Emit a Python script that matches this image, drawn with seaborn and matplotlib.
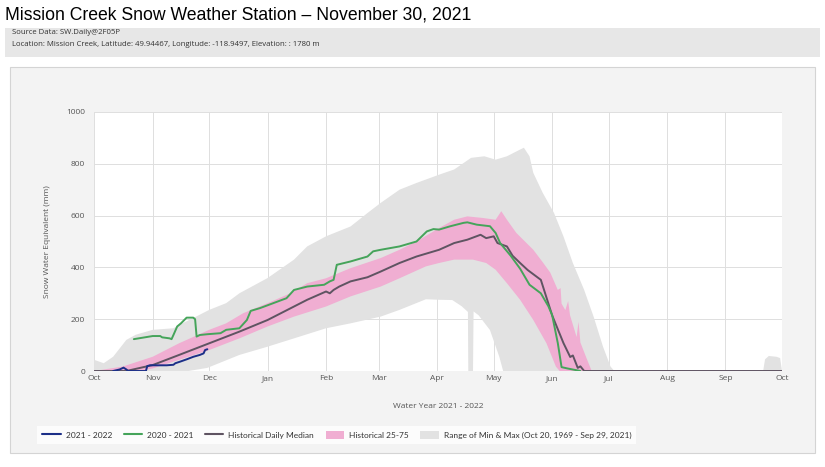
import numpy as np
import matplotlib
matplotlib.use("Agg")
import matplotlib.pyplot as plt
import seaborn as sns
from matplotlib.patches import Rectangle, Patch
from matplotlib.lines import Line2D

# ---------------- data (day of water year from Oct 1, SWE in mm) ----------------
MONTH_DAYS = [0, 31, 61, 92, 123, 151, 182, 212, 243, 273, 304, 335, 365]
MONTH_LABELS = ["Oct", "Nov", "Dec", "Jan", "Feb", "Mar", "Apr", "May", "Jun", "Jul", "Aug", "Sep", "Oct"]
Y_TICKS = [0, 200, 400, 600, 800, 1000]

MAX_DAY = [0, 5, 10, 17, 22, 31, 42, 47, 54, 61, 70, 77, 92, 106, 113, 123, 136, 145, 152, 162, 171,
           183, 191, 200, 207, 213, 219, 226, 228, 231, 233, 238, 244, 249, 254, 260, 265, 270, 274, 276,
           355, 356, 358, 362, 364, 365]
MAX_VAL = [43, 30, 55, 120, 140, 159, 165, 185, 210, 236, 262, 300, 359, 430, 481, 520, 558, 610, 649, 700, 726,
           758, 778, 823, 829, 816, 829, 855, 862, 829, 765, 688, 610, 520, 417, 313, 210, 94, 17, 0,
           0, 45, 58, 55, 50, 0]

MIN_DAY = [0, 50, 60, 77, 92, 106, 123, 136, 152, 162, 176, 183, 190, 195, 198.3, 198.5, 201, 201.3, 204, 210, 215, 217, 365]
MIN_VAL = [0, 0, 12, 62, 94, 126, 165, 184, 210, 236, 277, 275, 274, 250, 228, 0, 0, 230, 215, 158, 54, 0, 0]

P75_DAY = [0, 15, 31, 45, 61, 70, 79, 92, 104, 113, 123, 136, 152, 162, 171, 183, 191, 198, 206, 213, 216, 219,
           224, 233, 238, 242, 246, 247.5, 248, 250, 251.5, 252.5, 256, 257, 258, 261, 264]
P75_VAL = [0, 17, 55, 107, 159, 184, 223, 262, 300, 339, 358, 397, 436, 468, 500, 552, 584, 597, 591, 584, 617, 584,
           533, 468, 420, 380, 313, 320, 260, 235, 270, 215, 131, 190, 110, 54, 0]

P25_DAY = [0, 24, 31, 45, 61, 77, 92, 106, 123, 136, 152, 162, 176, 183, 191, 201, 208, 213, 219, 226, 233, 240, 245, 247]
P25_VAL = [0, 0, 10, 43, 81, 126, 172, 210, 249, 288, 326, 358, 404, 417, 430, 430, 417, 391, 339, 275, 197, 107, 17, 0]

MED_DAY = [0, 17, 31, 45, 61, 77, 92, 106, 113, 123, 125, 127, 130, 136, 145, 152, 162, 171, 183, 191, 198, 205,
           208, 212, 214, 219, 222, 226, 230, 237, 243, 249, 252.6, 254, 256.6, 258, 260, 365]
MED_VAL = [0, 0, 23, 62, 107, 152, 197, 249, 275, 307, 300, 313, 326, 346, 362, 384, 417, 442, 468, 494, 507, 526,
           513, 520, 494, 481, 445, 417, 390, 352, 215, 108, 54, 60, 12, 18, 0, 0]

GREEN_DAY = [21, 31, 35, 36, 40, 41, 42, 44, 46, 49, 52.5, 53.5, 54.3, 56, 60, 67, 70, 77, 81, 83, 88, 95, 102,
             106, 113, 122, 125, 127, 128.7, 136, 145, 148, 152, 162, 171, 176.5, 180, 183, 189, 196, 198, 203,
             210, 213, 215.4, 221, 226, 231, 237, 241, 243, 246, 248, 251, 258]
GREEN_VAL = [123, 135, 135, 130, 126, 123, 139, 172, 184, 206, 206, 200, 133, 139, 142, 146, 159, 165, 197, 232, 243,
             262, 281, 313, 326, 333, 346, 352, 410, 423, 442, 462, 468, 481, 500, 539, 548, 546, 559, 572, 574,
             565, 559, 533, 494, 445, 395, 333, 300, 250, 216, 108, 15, 10, 0]

BLUE_DAY = [10, 13.5, 15.5, 17, 18, 27.4, 28.1, 29.6, 38.4, 42, 43, 45.5, 49, 52.6, 56, 58, 58.8, 60]
BLUE_VAL = [0, 6, 13, 6, 0, 0, 19, 22, 22, 24, 30, 36, 45, 55, 62, 68, 81, 84]

LEGEND_LABELS = ["2021 - 2022", "2020 - 2021", "Historical Daily Median", "Historical 25-75",
                 "Range of Min & Max (Oct 20, 1969 - Sep 29, 2021)"]

C_BLUE = "#1c2f88"
C_GREEN = "#45a45a"
C_MED = "#5f5462"
C_PINK = "#f0aed2"
C_GRAY = "#e2e2e2"
TXT = "#555555"

# ---------------- figure ----------------
sns.set_theme(style="white")
plt.rcParams['font.family'] = ['Open Sans', 'DejaVu Sans']

W, H = 825, 467
fig = plt.figure(figsize=(W / 100, H / 100), dpi=100)
fig.patch.set_facecolor("white")


def fx(px):
    return px / W


def fy(py):
    return 1 - py / H


fig.patches.append(Rectangle((fx(5), fy(57)), fx(820) - fx(5), fy(28) - fy(57), transform=fig.transFigure,
                             facecolor="#e7e7e7", edgecolor="none", zorder=-2))
fig.patches.append(Rectangle((fx(10), fy(453)), fx(815) - fx(10), fy(67) - fy(453), transform=fig.transFigure,
                             facecolor="#f3f3f3", edgecolor="#d4d4d4", lw=0.8, zorder=-2))

fig.text(fx(5), fy(15), "Mission Creek Snow Weather Station \u2013 November 30, 2021",
         family=["Liberation Sans", "DejaVu Sans"], fontsize=12.7, color="black", va="center", ha="left")
fig.text(fx(12), fy(33), "Source Data: SW.Daily@2F05P", family=["Open Sans", "DejaVu Sans"],
         fontsize=5.6, color="#333333", va="center", ha="left")
fig.text(fx(12), fy(44), "Location: Mission Creek, Latitude: 49.94467, Longitude: -118.9497, Elevation: : 1780 m",
         family=["Open Sans", "DejaVu Sans"], fontsize=5.6, color="#333333", va="center", ha="left")

ax = fig.add_axes([fx(94.3), fy(371), fx(782) - fx(94.3), fy(112) - fy(371)])
ax.set_facecolor("white")

# bands
ax.fill(np.r_[MAX_DAY, MIN_DAY[::-1]], np.r_[MAX_VAL, MIN_VAL[::-1]], color=C_GRAY, lw=0, zorder=1)
ax.fill(np.r_[P75_DAY, P25_DAY[::-1]], np.r_[P75_VAL, P25_VAL[::-1]], color=C_PINK, lw=0, zorder=2)

# lines
sns.lineplot(x=MED_DAY, y=MED_VAL, ax=ax, color=C_MED, lw=1.4, estimator=None, sort=False, zorder=3)
sns.lineplot(x=GREEN_DAY, y=GREEN_VAL, ax=ax, color=C_GREEN, lw=1.4, estimator=None, sort=False, zorder=4)
sns.lineplot(x=BLUE_DAY, y=BLUE_VAL, ax=ax, color=C_BLUE, lw=1.4, estimator=None, sort=False, zorder=5)

ax.set_xlim(0, 365)
ax.set_ylim(0, 1000)
ax.set_xticks(MONTH_DAYS)
ax.set_xticklabels(MONTH_LABELS)
ax.set_yticks(Y_TICKS)
ax.grid(True, color="#dedede", lw=0.7)
ax.set_axisbelow(True)
for s in ax.spines.values():
    s.set_visible(False)
ax.tick_params(axis="both", length=0, labelsize=6, colors=TXT)
ax.tick_params(axis="y", pad=6.5)
ax.tick_params(axis="x", pad=3)
ax.set_xlabel("Water Year 2021 - 2022", fontsize=6, color=TXT, labelpad=15)
ax.set_ylabel("Snow Water Equivalent (mm)", fontsize=6, color=TXT, labelpad=11)

handles = [Line2D([], [], color=C_BLUE, lw=1.5), Line2D([], [], color=C_GREEN, lw=1.5),
           Line2D([], [], color=C_MED, lw=1.5), Patch(facecolor=C_PINK, edgecolor="none"),
           Patch(facecolor=C_GRAY, edgecolor="none")]
leg = fig.legend(handles, LEGEND_LABELS, loc="center left", bbox_to_anchor=(fx(33), fy(435)), ncol=5,
                 frameon=True, fancybox=False, prop={"family": ["Lato", "DejaVu Sans"], "size": 6},
                 handlelength=2.2, handleheight=1.0, handletextpad=0.6, columnspacing=1.4,
                 borderpad=0.6, labelcolor="#333333")
leg.get_frame().set_facecolor("white")
leg.get_frame().set_edgecolor("none")

fig.savefig("out.png", dpi=100)
